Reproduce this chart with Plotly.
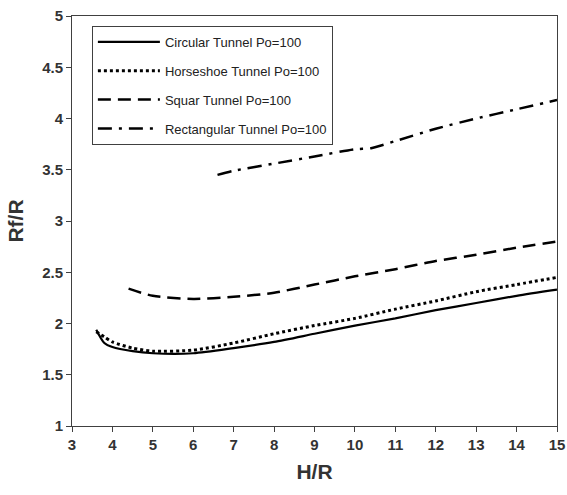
import plotly.graph_objects as go

# H/R values and Rf/R values
circ_x = [3.6, 3.8, 4.0, 4.5, 5, 6, 7, 8, 9, 10, 11, 12, 13, 14, 15]
circ_y = [1.94, 1.81, 1.77, 1.73, 1.71, 1.71, 1.76, 1.82, 1.90, 1.98, 2.05, 2.13, 2.20, 2.27, 2.33]

horse_x = [3.6, 3.8, 4.0, 4.5, 5, 6, 7, 8, 9, 10, 11, 12, 13, 14, 15]
horse_y = [1.92, 1.87, 1.82, 1.76, 1.73, 1.74, 1.81, 1.90, 1.98, 2.05, 2.14, 2.22, 2.31, 2.38, 2.45]

squar_x = [4.4, 5, 6, 7, 8, 9, 10, 11, 12, 13, 14, 15]
squar_y = [2.34, 2.27, 2.24, 2.26, 2.30, 2.38, 2.46, 2.53, 2.61, 2.67, 2.74, 2.80]

rect_x = [6.6, 7, 8, 9, 10, 10.4, 11, 12, 13, 14, 15]
rect_y = [3.45, 3.49, 3.56, 3.63, 3.70, 3.71, 3.78, 3.90, 4.00, 4.09, 4.18]

names = ["Circular Tunnel Po=100", "Horseshoe Tunnel Po=100",
         "Squar Tunnel Po=100", "Rectangular Tunnel Po=100"]

series = [
    (circ_x, circ_y, dict(color="black", width=2.2, dash="solid")),
    (horse_x, horse_y, dict(color="black", width=3, dash="dot")),
    (squar_x, squar_y, dict(color="black", width=2.5, dash="13px,7px")),
    (rect_x, rect_y, dict(color="black", width=2.5, dash="14px,7px,3px,7px")),
]

fig = go.Figure()
for i, ((xs, ys, ln), nm) in enumerate(zip(series, names)):
    fig.add_trace(go.Scatter(x=xs, y=ys, mode="lines", name=nm,
                             line=dict(shape="spline", smoothing=0.7, **ln),
                             legendgroup=f"g{i}"))

tickfont = dict(family="Liberation Sans", size=15, color="#333333", weight="bold")
fig.update_layout(
    width=567, height=495,
    margin=dict(l=72, r=10, t=16, b=69),
    paper_bgcolor="white", plot_bgcolor="white",
    showlegend=True,
    legend=dict(x=0.041, y=0.976, xanchor="left", yanchor="top",
                bgcolor="white", bordercolor="#404040", borderwidth=1,
                font=dict(family="Liberation Sans", size=13, color="#222222"),
                traceorder="grouped", tracegroupgap=9, itemwidth=62),
    xaxis=dict(range=[3, 15], dtick=1, showgrid=False, zeroline=False,
               showline=True, linecolor="#404040", linewidth=1, mirror=True,
               ticks="outside", ticklen=5, tickcolor="#404040",
               tickfont=tickfont, automargin=False,
               title=dict(text="H/R", standoff=12,
                          font=dict(family="Liberation Sans", size=21, color="#333333", weight="bold"))),
    yaxis=dict(range=[1, 5], dtick=0.5, showgrid=False, zeroline=False,
               showline=True, linecolor="#404040", linewidth=1, mirror=True,
               ticks="outside", ticklen=5, tickcolor="#404040",
               tickfont=tickfont, automargin=False,
               title=dict(text="Rf/R", standoff=12,
                          font=dict(family="Liberation Sans", size=21, color="#333333", weight="bold"))),
)

fig.write_html("out.html")
